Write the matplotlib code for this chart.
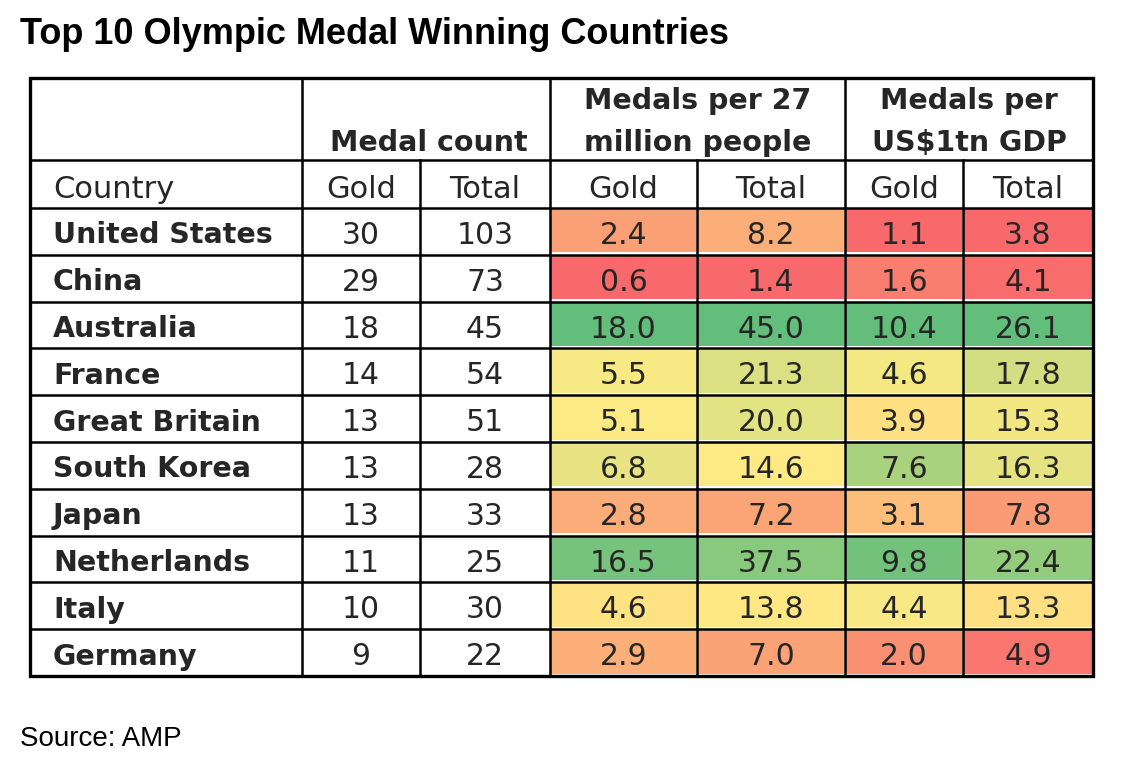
import numpy as np
import matplotlib
matplotlib.use('Agg')
import matplotlib.pyplot as plt
from matplotlib.colors import to_rgb

# dati della tabella
paesi = ['United States', 'China', 'Australia', 'France', 'Great Britain',
         'South Korea', 'Japan', 'Netherlands', 'Italy', 'Germany']
ori = [30, 29, 18, 14, 13, 13, 13, 11, 10, 9]
totali = [103, 73, 45, 54, 51, 28, 33, 25, 30, 22]
ori_pop = [2.4, 0.6, 18.0, 5.5, 5.1, 6.8, 2.8, 16.5, 4.6, 2.9]
tot_pop = [8.2, 1.4, 45.0, 21.3, 20.0, 14.6, 7.2, 37.5, 13.8, 7.0]
ori_pil = [1.1, 1.6, 10.4, 4.6, 3.9, 7.6, 3.1, 9.8, 4.4, 2.0]
tot_pil = [3.8, 4.1, 26.1, 17.8, 15.3, 16.3, 7.8, 22.4, 13.3, 4.9]

titolo = 'Top 10 Olympic Medal Winning Countries'
fonte = 'Source: AMP'

# scala a tre colori stile Excel
ROSSO = np.array(to_rgb('#F8696B'))
GIALLO = np.array(to_rgb('#FFEB84'))
VERDE = np.array(to_rgb('#63BE7B'))


def colore_scala(valori):
    v = np.array(valori, dtype=float)
    vmin, vmax, vmed = v.min(), v.max(), np.percentile(v, 50)
    colori = []
    for x in v:
        if x <= vmed:
            t = (x - vmin) / (vmed - vmin)
            c = ROSSO + (GIALLO - ROSSO) * t
        else:
            t = (x - vmed) / (vmax - vmed)
            c = GIALLO + (VERDE - GIALLO) * t
        colori.append(c)
    return colori


W, H = 1126, 780
fig = plt.figure(figsize=(W / 100, H / 100), dpi=100)
ax = fig.add_axes([0, 0, 1, 1])
ax.set_xlim(0, W)
ax.set_ylim(H, 0)
ax.axis('off')

# griglia in pixel
xs = [30, 302, 420, 550, 697, 845, 963, 1093]
y_top, y_h1, y_h2, y_bot = 78, 160, 208, 676
righe_y = np.linspace(y_h2, y_bot, len(paesi) + 1)

TESTO = '#262626'
LW = 1.8

# celle colorate
colonne_col = [ori_pop, tot_pop, ori_pil, tot_pil]
for j, col in enumerate(colonne_col):
    colori = colore_scala(col)
    x0, x1 = xs[3 + j], xs[4 + j]
    for i, c in enumerate(colori):
        ya, yb = righe_y[i], righe_y[i + 1]
        ax.add_patch(plt.Rectangle((x0 + 1, ya + 1), x1 - x0 - 2, yb - ya - 3.5,
                                   facecolor=c, edgecolor='none', zorder=1))

# linee della tabella
for y in righe_y:
    ax.plot([xs[0], xs[-1]], [y, y], color='black', lw=LW, zorder=3)
ax.plot([xs[0], xs[-1]], [y_h1, y_h1], color='black', lw=LW, zorder=3)
for k, x in enumerate(xs):
    if k in (2, 4, 6):
        ax.plot([x, x], [y_h1, y_bot], color='black', lw=LW, zorder=3)
    else:
        ax.plot([x, x], [y_top, y_bot], color='black', lw=LW, zorder=3)
ax.add_patch(plt.Rectangle((xs[0], y_top), xs[-1] - xs[0], y_bot - y_top,
                           fill=False, edgecolor='black', lw=2.4, zorder=4))

FAM = 'DejaVu Sans'
FS_B = 20.5
FS_H = 22
FS_N = 21.5

# intestazioni
ax.text((xs[1] + xs[3]) / 2 + 3, 143, 'Medal count', ha='center', va='center',
        fontsize=FS_B, fontweight='bold', color=TESTO, family=FAM)
for (xa, xb), righe in [((xs[3], xs[5]), ['Medals per 27', 'million people']),
                        ((xs[5], xs[7]), ['Medals per', 'US$1tn GDP'])]:
    ax.text((xa + xb) / 2, 101, righe[0], ha='center', va='center',
            fontsize=FS_B, fontweight='bold', color=TESTO, family=FAM)
    ax.text((xa + xb) / 2, 143, righe[1], ha='center', va='center',
            fontsize=FS_B, fontweight='bold', color=TESTO, family=FAM)

yc = (y_h1 + y_h2) / 2 + 5
ax.text(53, yc, 'Country', ha='left', va='center', fontsize=FS_H,
        color=TESTO, family=FAM)
for k, lab in enumerate(['Gold', 'Total'] * 3):
    ax.text((xs[1 + k] + xs[2 + k]) / 2, yc, lab, ha='center', va='center',
            fontsize=FS_H, color=TESTO, family=FAM)

# righe dei dati
for i, paese in enumerate(paesi):
    yc = (righe_y[i] + righe_y[i + 1]) / 2 + 4
    ax.text(53, yc, paese, ha='left', va='center', fontsize=FS_B,
            fontweight='bold', color=TESTO, family=FAM)
    valori = [f'{ori[i]}', f'{totali[i]}', f'{ori_pop[i]:.1f}', f'{tot_pop[i]:.1f}',
              f'{ori_pil[i]:.1f}', f'{tot_pil[i]:.1f}']
    for k, s in enumerate(valori):
        ax.text((xs[1 + k] + xs[2 + k]) / 2, yc, s, ha='center', va='center',
                fontsize=FS_N, color=TESTO, family=FAM)

ax.text(20, 34, titolo, ha='left', va='center', fontsize=26, fontweight='bold',
        color='black', family='Liberation Sans')
ax.text(20, 739, fonte, ha='left', va='center', fontsize=20,
        color='black', family='Liberation Sans')

fig.savefig('out.png', dpi=100)
